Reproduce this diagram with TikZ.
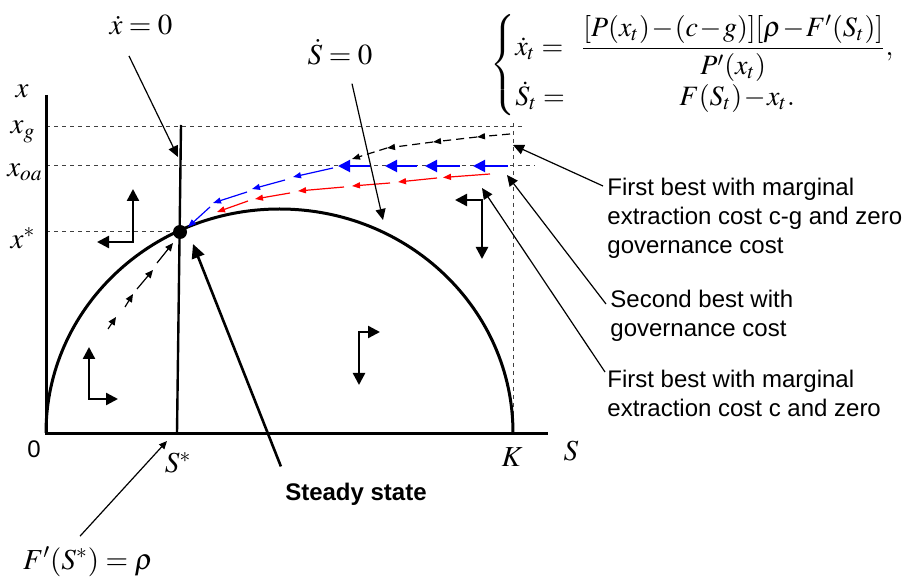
\documentclass[tikz,border=0pt]{standalone}
\usepackage{amsmath}
\usepackage{mathptmx}
\usepackage[no-math]{fontspec}
\setsansfont{Liberation Sans}
\usetikzlibrary{arrows.meta, positioning}

\begin{document}
\begin{tikzpicture}[x=0.5pt,y=-0.5pt,
    axis/.style={line width=1.5pt},
    guide/.style={dash pattern=on 2pt off 2pt, line width=0.5pt, black!75},
    pointer/.style={-{Triangle[length=5.5pt,width=5pt]}, line width=0.6pt},
    smallptr/.style={-{Triangle[length=4pt,width=3.5pt]}, line width=0.6pt},
    bigptr/.style={-{Triangle[length=7pt,width=6.5pt]}, line width=1.3pt},
    twoway/.style={{Triangle[length=6pt,width=6pt]}-{Triangle[length=6pt,width=6pt]}, line width=1.2pt},
    fbred/.style={-{Triangle[length=4pt,width=3pt]}, line width=0.6pt, red},
    sbblue/.style={-{Triangle[length=4pt,width=3pt]}, line width=0.6pt, blue},
    sbbig/.style={-{Triangle[length=6pt,width=6pt]}, line width=1pt, blue},
    fbblack/.style={-{Triangle[length=4pt,width=3pt]}, line width=0.6pt, dash pattern=on 4pt off 2.5pt},
    lbl/.style={font=\sffamily\fontsize{12}{14.5}\selectfont, align=left, inner sep=0pt},
    mlbl/.style={font=\fontsize{14.5}{17}\selectfont}]

  \useasboundingbox (0,0) rectangle (904,582);

  % axis labels
  \node[mlbl] (xl)   at (22,91)  {$x$};
  \node[mlbl] (xg)   at (23,132) {$x_g$};
  \node[mlbl] (xoa)  at (25,172) {$x_{oa}$};
  \node[mlbl] (xs)   at (23,238) {$x^*$};
  \node[lbl]  (zero) at (34,449) {0};
  \node[mlbl] (Ss)   at (178,463) {$S^*$};
  \node[mlbl] (K)    at (512,457) {$K$};
  \node[mlbl] (S)    at (571,451) {$S$};

  % guides
  \draw[guide] (46,127) -- (522,127);
  \draw[guide] (46,166) -- (535,166);
  \draw[guide] (46,232) -- (180,232);
  \draw[guide] (513,123) -- (513,433);

  % axes and isoclines
  \draw[axis] (46,95) -- (46,433) -- (548,433);
  \draw[axis] (46,433) arc[start angle=180, end angle=360, x radius=233.5, y radius=224];
  \draw[line width=1.2pt] (181,125) -- (177,433);
  \coordinate (ss) at (180,232);
  \fill (ss) circle[radius=7];

  % phase arrows
  \draw[twoway] (133,189) -- (133,242) -- (97,242);
  \draw[twoway] (89,347) -- (89,399) -- (118,399);
  \draw[twoway] (380,332) -- (359,332) -- (359,385);
  \draw[twoway] (455,200) -- (482,200) -- (482,259);

  % saddle path from below
  \foreach \ax/\ay/\bx/\by in {108/329/116/317, 125/307/133/294, 137/289/153/270, 157/263/173/243}
    \draw[smallptr] (\ax,\ay) -- (\bx,\by);

  % first best, cost c-g
  \foreach \ax/\ay/\bx/\by in {510/134/477/137, 477/137/433/142, 433/142/387/148, 387/148/352/159}
    \draw[fbblack] (\ax,\ay) -- (\bx,\by);

  % second best
  \foreach \ax/\bx in {508/473, 460/425, 417/385, 370/338}
    \draw[sbbig] (\ax,166) -- (\bx,166);
  \foreach \ax/\ay/\bx/\by in {333/168/293/177, 285/180/252/189, 247/192/213/203, 210/207/188/227}
    \draw[sbblue] (\ax,\ay) -- (\bx,\by);

  % first best, cost c
  \foreach \ax/\ay/\bx/\by in {490/174/443/177.5, 437/178/398/182, 390/183/352/186, 344/187/298/191, 290/193/255/199, 248/201/217/212}
    \draw[fbred] (\ax,\ay) -- (\bx,\by);

  % isocline labels
  \node[mlbl] (xdot) at (141,25) {$\dot x = 0$};
  \node[mlbl] (Sdot) at (340,52) {$\dot S = 0$};
  \coordinate (xdottip) at (178,157);
  \coordinate (Sdottip) at (383,220);
  \draw[pointer] ([xshift=-6pt,yshift=-7pt]xdot.south) -- (xdottip);
  \draw[pointer] ([xshift=6pt,yshift=-6pt]Sdot.south) -- (Sdottip);

  % system
  \node[anchor=west, inner sep=0pt, font=\fontsize{14}{16.5}\selectfont] (sys) at (490,65)
    {$\medmuskip=1mu\left\{\begin{array}{@{}l@{\hspace{8pt}}c@{}}
      \dot x_t = & \dfrac{[P(x_t)-(c-g)][\rho-F'(S_t)]}{P'(x_t)}, \\[0pt]
      \dot S_t = & F(S_t)-x_t.
    \end{array}\right.$};

  % path labels
  \node[lbl, anchor=north west] (fbcg) at (607,178) {First best with marginal\\extraction cost c-g and zero\\governance cost};
  \node[lbl, anchor=north west] (sb)   at (610,290) {Second best with\\governance cost};
  \node[lbl, anchor=north west] (fbc)  at (607,370) {First best with marginal\\extraction cost c and zero};
  \coordinate (fbcgtip) at (513,145);
  \coordinate (sbtip) at (507,175);
  \coordinate (fbctip) at (482,188);
  \draw[pointer] ([xshift=-2pt,yshift=-4pt]fbcg.north west) -- (fbcgtip);
  \draw[pointer] ([xshift=-2pt,yshift=-7pt]sb.north west) -- (sbtip);
  \draw[pointer] ([xshift=-1pt,yshift=-1pt]fbc.north west) -- (fbctip);

  % steady state
  \node[lbl, font=\sffamily\bfseries\fontsize{12}{14.5}\selectfont] (sslbl) at (356,494) {Steady state};
  \coordinate (sstip) at (193,244);
  \draw[bigptr] ([xshift=-2pt,yshift=8pt]sslbl.north west) -- (sstip);

  % golden rule
  \node[mlbl] (golden) at (88,562) {$F'(S^*) = \rho$};
  \coordinate (goldtip) at (167,441);
  \draw[smallptr] ([xshift=-4pt,yshift=2pt]golden.north) -- (goldtip);
\end{tikzpicture}
\end{document}
